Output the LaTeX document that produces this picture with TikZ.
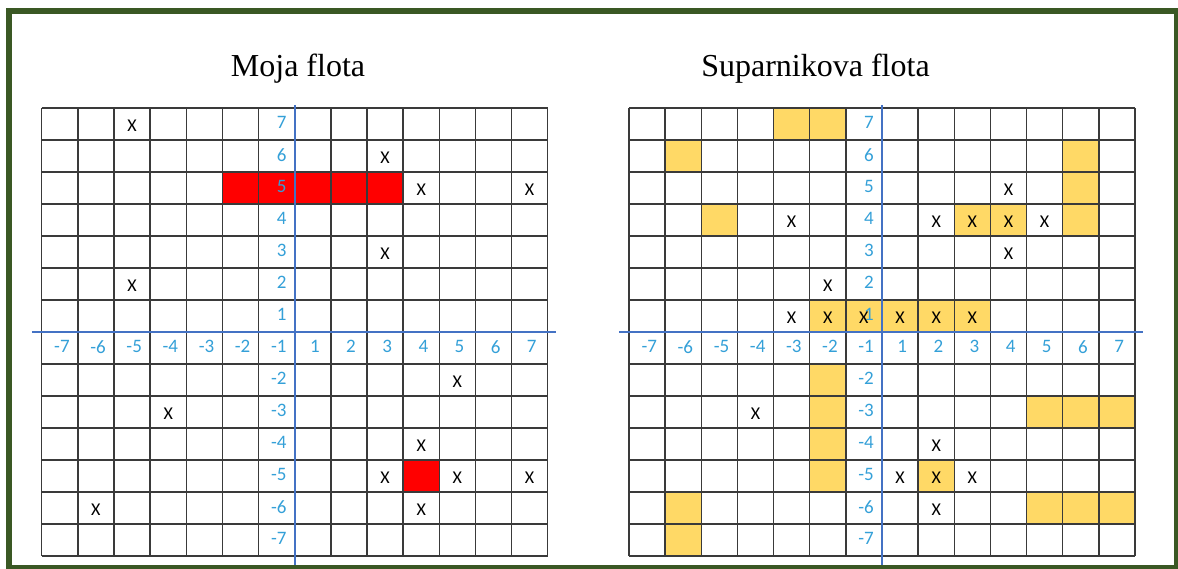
\documentclass[tikz,border=0pt]{standalone}
\usepackage{fontspec}
\setmainfont{Liberation Serif}
\newfontfamily\gridfont{Carlito}

\definecolor{framegreen}{RGB}{58,88,36}
\definecolor{axisblue}{RGB}{68,114,196}
\definecolor{labelblue}{RGB}{52,160,216}
\definecolor{shipyellow}{RGB}{255,217,102}
\definecolor{gridgray}{RGB}{58,58,58}

% grid, number labels and axes of one board (cell units)
\newcommand{\boardgrid}[1]{%
  \foreach \k in {0,...,14} {
    \draw[gridline] (\k,0) -- (\k,14);
    \draw[gridline] (0,\k) -- (14,\k);
  }
  \foreach \r in {7,6,5,4,3,2,1,-1,-2,-3,-4,-5,-6,-7}
    \node[axislabel, anchor=east] (#1v\r) at (6.78,{7.46-\r-(\r<0)}) {\r};
  \foreach \c in {-7,...,-2,1,2,...,7}
    \node[axislabel] (#1h\c) at ({\c+7.56-(\c>0)},7.46) {\c};
  \draw[axisline] (7,-0.1) -- (7,14.4);
  \draw[axisline] (-0.27,7) -- (14.23,7);
}

\begin{document}
\begin{tikzpicture}[
        x=1pt, y=-1pt,
        frame/.style={
            draw=framegreen,
            line width=6pt
        },
        title/.style={
            inner sep=0pt,
            font=\fontsize{32}{36}\selectfont
        },
        gridline/.style={
            draw=gridgray,
            line width=1.4pt
        },
        axisline/.style={
            draw=axisblue,
            line width=2.2pt
        },
        axislabel/.style={
            inner sep=0pt,
            text=labelblue,
            font=\gridfont\fontsize{19}{19}\selectfont
        },
        shotmark/.style={
            inner sep=0pt,
            font=\gridfont\fontsize{18}{18}\selectfont
        },
        hitcell/.style={
            fill=red
        },
        shipcell/.style={
            fill=shipyellow
        }
    ]

    \useasboundingbox (0,0) rectangle (1178,568);
    \fill[white] (0,0) rectangle (1178,568);

    \node[title, anchor=base] (mytitle) at (298,76) {Moja flota};
    \node[title, anchor=base] (rivaltitle) at (815.5,76) {Suparnikova flota};

    % my fleet
    \begin{scope}[shift={(41.7pt,-108pt)}, x=36.14pt, y=-32pt]
        \foreach \c/\r in {-2/5,-1/5,1/5,2/5,3/5,4/-5}
            \fill[hitcell] ({\c+7-(\c>0)},{7-\r-(\r<0)}) rectangle ++(1,1);
        \boardgrid{L}
        \foreach \c/\r [count=\n] in {-5/7,3/6,4/5,7/5,3/3,-5/2,5/-2,-4/-3,
                4/-4,3/-5,5/-5,7/-5,-6/-6,4/-6}
            \node[shotmark] (Lx\n) at ({\c+7.5-(\c>0)},{7.56-\r-(\r<0)}) {X};
    \end{scope}

    % rival fleet
    \begin{scope}[shift={(629pt,-108pt)}, x=36.14pt, y=-32pt]
        \foreach \c/\r in {-3/7,-2/7,-6/6,6/6,6/5,-5/4,3/4,4/4,6/4,
                -2/1,-1/1,1/1,2/1,3/1,-2/-2,-2/-3,-2/-4,-2/-5,
                5/-3,6/-3,7/-3,2/-5,-6/-6,5/-6,6/-6,7/-6,-6/-7}
            \fill[shipcell] ({\c+7-(\c>0)},{7-\r-(\r<0)}) rectangle ++(1,1);
        \boardgrid{R}
        \foreach \c/\r [count=\n] in {4/5,-3/4,2/4,3/4,4/4,5/4,4/3,-2/2,
                -3/1,-2/1,-1/1,1/1,2/1,3/1,-4/-3,2/-4,1/-5,2/-5,3/-5,2/-6}
            \node[shotmark] (Rx\n) at ({\c+7.5-(\c>0)},{7.56-\r-(\r<0)}) {X};
    \end{scope}

    \draw[frame] (9,11) rectangle (1177,568);

\end{tikzpicture}
\end{document}
